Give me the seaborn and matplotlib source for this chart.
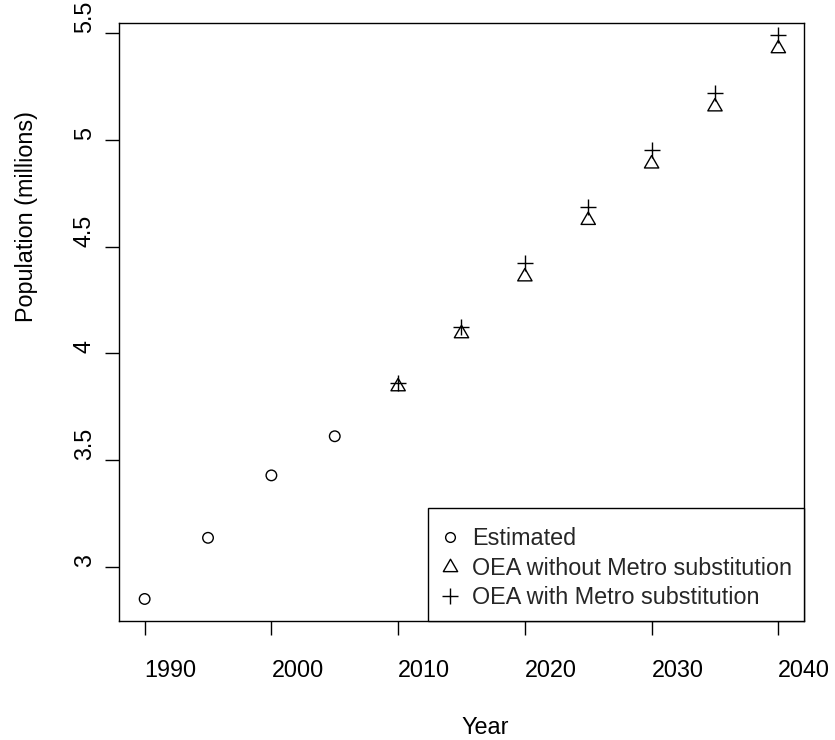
import numpy as np
import pandas as pd
import matplotlib
matplotlib.use("Agg")
import matplotlib.pyplot as plt
from matplotlib.path import Path
from matplotlib.lines import Line2D
import seaborn as sns

# Oregon population, millions
est_years = [1990, 1995, 2000, 2005]
est_pop = [2.852, 3.138, 3.430, 3.613]

fc_years = [2010, 2015, 2020, 2025, 2030, 2035, 2040]
oea_without_metro = [3.845, 4.093, 4.359, 4.623, 4.887, 5.154, 5.426]
oea_with_metro = [3.860, 4.126, 4.421, 4.686, 4.951, 5.217, 5.489]

x_ticks = [1990, 2000, 2010, 2020, 2030, 2040]
y_ticks = [3, 3.5, 4, 4.5, 5, 5.5]
y_tick_labels = ["3", "3.5", "4", "4.5", "5", "5.5"]
legend_labels = ["Estimated", "OEA without Metro substitution",
                 "OEA with Metro substitution"]

sns.set_style("white")
plt.rcParams["font.family"] = ["Liberation Sans", "DejaVu Sans"]
FS = 16.8

est_df = pd.DataFrame({"Year": est_years, "Population": est_pop})
fc_df = pd.DataFrame({"Year": fc_years,
                      "without": oea_without_metro,
                      "with": oea_with_metro})

# equilateral triangle centred on its centroid
tri = Path([(0, 1), (-0.866, -0.5), (0.866, -0.5), (0, 1)],
           [Path.MOVETO, Path.LINETO, Path.LINETO, Path.CLOSEPOLY])

fig = plt.figure(figsize=(8.35, 7.4), dpi=100)
ax = fig.add_axes([0.14287, 0.16081, 0.81964, 0.80851])

sns.scatterplot(data=est_df, x="Year", y="Population", ax=ax, marker="o",
                s=7.6 ** 2, color="black", facecolors="none",
                edgecolor="black", linewidth=1.0)
sns.scatterplot(data=fc_df, x="Year", y="without", ax=ax, marker=tri,
                s=11.9 ** 2, color="black", facecolors="none",
                edgecolor="black", linewidth=1.0)
sns.scatterplot(data=fc_df, x="Year", y="with", ax=ax, marker="+",
                s=11.2 ** 2, color="black", linewidth=1.0)

ax.set_xlim(1988, 2042)
ax.set_ylim(2.749, 5.547)

for sp in ax.spines.values():
    sp.set_visible(True)
    sp.set_color("black")
    sp.set_linewidth(1.0)

ax.set_xticks(x_ticks)
ax.set_xticklabels([str(v) for v in x_ticks])
ax.set_yticks(y_ticks)
ax.set_yticklabels(y_tick_labels)
ax.tick_params(axis="both", direction="out", length=10, width=1.0,
               color="black", labelsize=FS, labelcolor="black",
               left=True, bottom=True)
ax.tick_params(axis="x", pad=17)
ax.tick_params(axis="y", pad=7)
for lab in ax.get_xticklabels():
    lab.set_ha("left")
for lab in ax.get_yticklabels():
    lab.set_rotation(90)
    lab.set_va("bottom")
    lab.set_ha("right")

ax.set_xlabel("Year", fontsize=FS, color="black")
ax.xaxis.label.set_ha("left")
ax.xaxis.set_label_coords(0.5, -0.1588)
ax.set_ylabel("Population (millions)", fontsize=FS, color="black")
ax.yaxis.label.set_ha("left")
ax.yaxis.set_label_coords(-0.1185, 0.5)

handles = [
    Line2D([], [], linestyle="none", marker="o", markersize=7.0,
           markerfacecolor="none", markeredgecolor="black", markeredgewidth=1.0),
    Line2D([], [], linestyle="none", marker=tri, markersize=11.9,
           markerfacecolor="none", markeredgecolor="black", markeredgewidth=1.0),
    Line2D([], [], linestyle="none", marker="+", markersize=11.2,
           markeredgecolor="black", markeredgewidth=1.0),
]
# a blank, tiny title gives the box some extra room above the first entry
leg = ax.legend(handles, legend_labels, loc="lower right",
                bbox_to_anchor=(1, 0), borderaxespad=0, fontsize=FS,
                title=" ", title_fontsize=1.4,
                frameon=True, fancybox=False, shadow=False,
                borderpad=0.5, labelspacing=0.28, handlelength=0.92,
                handletextpad=0.47)
frame = leg.get_frame()
frame.set_edgecolor("black")
frame.set_linewidth(1.0)
frame.set_facecolor("white")
frame.set_alpha(1)

fig.savefig("out.png", dpi=100, facecolor="white")
